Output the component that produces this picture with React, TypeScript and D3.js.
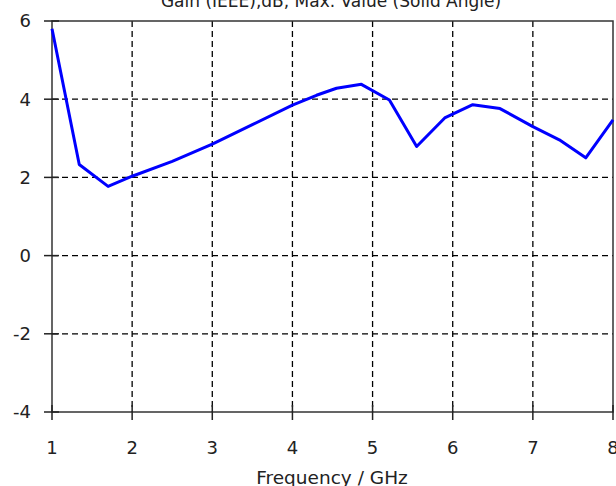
import React from 'react';
import { scaleLinear, line } from 'd3';

// frequency in GHz, gain in dB
const freqs = [1.0, 1.34, 1.7, 2.0, 2.5, 3.0, 3.5, 4.0, 4.3, 4.55, 4.86, 5.21, 5.55, 5.9, 6.25, 6.59, 7.0, 7.33, 7.66, 8.0];
const gains = [5.8, 2.33, 1.77, 2.03, 2.41, 2.85, 3.35, 3.85, 4.1, 4.28, 4.38, 3.98, 2.79, 3.52, 3.86, 3.76, 3.3, 2.96, 2.5, 3.47];
const xTicks = [1, 2, 3, 4, 5, 6, 7, 8];
const yTicks = [-4, -2, 0, 2, 4, 6];

const title = 'Gain (IEEE),dB, Max. Value (Solid Angle)';
const xLabel = 'Frequency / GHz';

const App = () => {
    const width = 616;
    const height = 486;
    const left = 52;
    const right = 613;
    const top = 21;
    const bottom = 412;
    const font = 'Tahoma, "DejaVu Sans", sans-serif';

    const x = scaleLinear().domain([1, 8]).range([left, right]);
    const y = scaleLinear().domain([-4, 6]).range([bottom, top]);

    const path = line<number>()
        .x((d, i) => x(freqs[i]))
        .y(d => y(d))(gains);

    return (
        <svg width={width} height={height} style={{ position: 'absolute', left: 0, top: 0 }}>
            <rect width={width} height={height} fill="#fff" />
            <text x={331} y={7} textAnchor="middle" fontFamily={font} fontSize={17} fill="#222">{title}</text>

            {/* grid */}
            {xTicks.slice(1, -1).map(t =>
                <line key={`gx-${t}`} x1={x(t)} x2={x(t)} y1={top} y2={bottom}
                    stroke="#000" strokeWidth={1.3} strokeDasharray="6,4" />
            )}
            {yTicks.slice(1, -1).map(t =>
                <line key={`gy-${t}`} x1={left} x2={right} y1={y(t)} y2={y(t)}
                    stroke="#000" strokeWidth={1.3} strokeDasharray="6,4" />
            )}

            {/* frame */}
            <rect x={left} y={top} width={right - left} height={bottom - top}
                fill="none" stroke="#333" strokeWidth={1.5} />

            {/* ticks + labels */}
            {xTicks.map(t =>
                <g key={`xt-${t}`} transform={`translate(${x(t)}, 0)`}>
                    <line y1={bottom - 7} y2={bottom + 8} stroke="#222" strokeWidth={1.5} />
                    <text y={454} textAnchor="middle" fontFamily={font} fontSize={18} fill="#222">{t}</text>
                </g>
            )}
            {yTicks.map(t =>
                <g key={`yt-${t}`} transform={`translate(0, ${y(t)})`}>
                    <line x1={left - 8} x2={left + 7} stroke="#222" strokeWidth={1.5} />
                    <text x={31} dy="0.36em" textAnchor="end" fontFamily={font} fontSize={18} fill="#222">{t}</text>
                </g>
            )}

            <text x={332} y={484} textAnchor="middle" fontFamily={font} fontSize={18.5} fill="#222">{xLabel}</text>

            <path d={path ?? ''} fill="none" stroke="#0000ff" strokeWidth={3} strokeLinejoin="round" />
        </svg>
    );
};

export default App;
